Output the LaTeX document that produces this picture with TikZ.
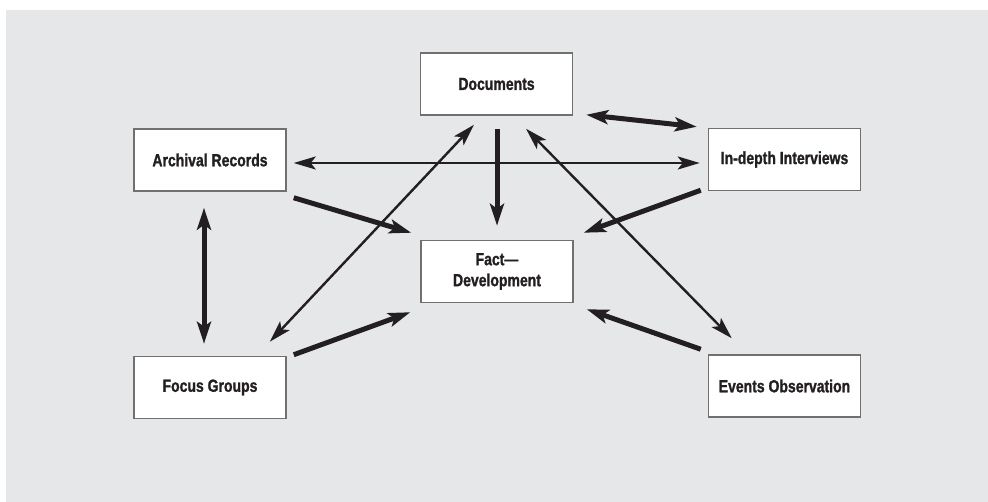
\documentclass[tikz,border=0pt]{standalone}
\usepackage{fontspec}
\setmainfont{Liberation Sans}[FakeStretch=0.80, BoldFeatures={FakeBold=1.2}]
\usetikzlibrary{arrows.meta,calc}
\definecolor{bggray}{HTML}{E6E7E9}
\definecolor{ink}{HTML}{231F20}
\definecolor{boxline}{HTML}{707070}
\tikzset{
  box/.style={draw=boxline, line width=1.5pt, fill=white, minimum width=152pt, minimum height=62pt,
    inner sep=0pt, align=center, text=ink, font=\fontsize{17.5}{21}\selectfont\bfseries},
  thickarrow/.style={draw=ink, line width=5pt, -{Stealth[length=22pt, width=14pt, inset=5pt]}},
  thickboth/.style={draw=ink, line width=5pt, {Stealth[length=22pt, width=14pt, inset=5pt]}-{Stealth[length=22pt, width=14pt, inset=5pt]}},
  thinboth/.style={draw=ink, line width=2.4pt, {Stealth[length=22pt, width=13pt, inset=5pt]}-{Stealth[length=22pt, width=13pt, inset=5pt]}},
}
\begin{document}
\begin{tikzpicture}[x=1pt, y=-1pt]
  \useasboundingbox (0,0) rectangle (988,502);
  \fill[white] (0,0) rectangle (988,502);
  \fill[bggray] (6,10) rectangle (988,502);

  \node[box] (doc)    at (496.5,84)   {Documents};
  \node[box] (arch)   at (210,160)    {Archival Records};
  \node[box] (inter)  at (784.5,159.5) {In-depth Interviews};
  \node[box] (fact)   at (497,271.5)  {Fact---\\Development};
  \node[box] (focus)  at (210,387.5)  {Focus Groups};
  \node[box] (events) at (784.5,386)  {Events Observation};

  % thin double arrows
  \draw[thinboth] ($(arch.east)+(7,3)$) -- ($(inter.west)+(-8,3.5)$);
  \draw[thinboth] ($(doc.south)+(-22.5,9)$) -- ($(focus.north east)+(-17,-14)$);
  \draw[thinboth] ($(doc.south)+(29.5,13)$) -- ($(events.north west)+(24,-16)$);

  % thick double arrows
  \draw[thickboth] ($(doc.south east)+(13,-1)$) -- ($(inter.north west)+(-11,-1)$);
  \draw[thickboth] ($(arch.south)+(-6,16)$) -- ($(focus.north)+(-6,-12)$);

  % thick arrows into Fact
  \draw[thickarrow] ($(doc.south)+(0.5,13)$) -- ($(fact.north)+(0,-14)$);
  \draw[thickarrow] ($(inter.south west)+(-7,-1)$) -- ($(fact.north east)+(10,-7)$);
  \draw[thickarrow] ($(arch.south east)+(7,6)$) -- ($(fact.north west)+(-9,-7)$);
  \draw[thickarrow] ($(focus.north east)+(7,-1)$) -- ($(fact.south west)+(-10,9)$);
  \draw[thickarrow] ($(events.north west)+(-7,-5)$) -- ($(fact.south east)+(13,6)$);
\end{tikzpicture}
\end{document}
